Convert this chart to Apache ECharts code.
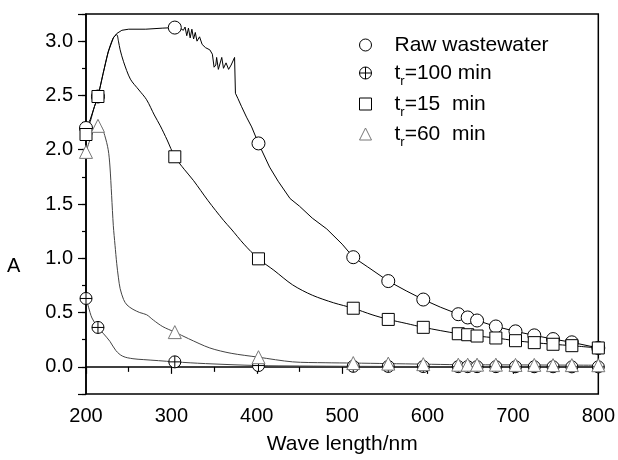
<!DOCTYPE html>
<html><head><meta charset="utf-8">
<script src="https://cdn.jsdelivr.net/npm/echarts@6/dist/echarts.min.js"></script>
<style>html,body{margin:0;padding:0;background:#fff}#c{width:618px;height:460px}</style>
</head><body><div id="c"></div>
<script>
// ---- data ----
const seriesNames = ['Raw wastewater', 't_r=100 min', 't_r=15  min', 't_r=60  min'];
const xTicks = [200, 300, 400, 500, 600, 700, 800];
const yTicks = [0.0, 0.5, 1.0, 1.5, 2.0, 2.5, 3.0];
const yTitle = 'A';
const xTitle = 'Wave length/nm';

// marker positions (nm)
const markerX = [200, 214, 304, 402, 513, 554, 595, 636, 647, 658, 680, 703, 725, 747, 769, 800];
const rawMarkY  = [2.20, 2.49, 3.125, 2.058, 1.01, 0.79, 0.62, 0.485, 0.455, 0.427, 0.372, 0.327, 0.29, 0.256, 0.226, 0.174];
const t100MarkY = [0.63, 0.363, 0.046, 0.012, 0.005, 0.004, 0.003, 0.002, 0.002, 0.002, 0.002, 0.001, 0.001, 0.001, 0.0, 0.0];
const t15MarkY  = [2.14, 2.49, 1.935, 0.995, 0.54, 0.437, 0.364, 0.305, 0.296, 0.284, 0.266, 0.241, 0.223, 0.208, 0.195, 0.174];
const t60MarkY  = [1.98, 2.22, 0.32, 0.089, 0.035, 0.03, 0.025, 0.02, 0.02, 0.02, 0.02, 0.018, 0.018, 0.016, 0.016, 0.015];

// spectra curves
const rawCurveX = [200, 205, 210, 214, 220, 226, 232, 236, 242, 250, 270, 290, 304, 310, 314, 316, 318, 320, 322, 324, 326, 328, 330, 333, 336, 340, 345, 348, 350, 352, 353, 355, 357, 359, 361, 364, 367, 370, 374, 375, 378, 382, 388, 394, 402, 415, 425, 439, 450, 465, 482, 500, 513, 530, 554, 575, 595, 615, 636, 647, 658, 680, 703, 725, 747, 769, 800];
const rawCurveY = [2.20, 2.28, 2.40, 2.49, 2.70, 2.90, 3.03, 3.07, 3.10, 3.11, 3.11, 3.12, 3.125, 3.12, 3.10, 3.13, 3.05, 3.12, 3.03, 3.11, 3.02, 3.08, 3.00, 3.04, 2.97, 2.94, 2.92, 2.88, 2.76, 2.78, 2.85, 2.74, 2.73, 2.85, 2.75, 2.80, 2.74, 2.78, 2.85, 2.52, 2.47, 2.40, 2.30, 2.21, 2.058, 1.84, 1.71, 1.55, 1.48, 1.37, 1.27, 1.13, 1.01, 0.92, 0.79, 0.70, 0.62, 0.55, 0.485, 0.455, 0.427, 0.372, 0.327, 0.29, 0.256, 0.226, 0.174];

const t100CurveX = [200, 203, 207, 214, 220, 228, 235, 243, 255, 267, 285, 304, 340, 402, 450, 513, 600, 700, 800];
const t100CurveY = [0.63, 0.55, 0.45, 0.363, 0.31, 0.235, 0.15, 0.098, 0.075, 0.067, 0.057, 0.046, 0.03, 0.012, 0.008, 0.005, 0.003, 0.001, 0.0];

const t15CurveX = [200, 205, 210, 214, 220, 226, 232, 236, 238, 240, 244, 252, 262, 271, 280, 287, 295, 304, 315, 326, 343, 361, 370, 385, 402, 420, 442, 465, 490, 513, 535, 554, 575, 595, 636, 647, 658, 680, 703, 725, 747, 769, 800];
const t15CurveY = [2.14, 2.26, 2.40, 2.49, 2.70, 2.90, 3.03, 3.06, 3.00, 2.92, 2.81, 2.65, 2.55, 2.46, 2.32, 2.22, 2.09, 1.935, 1.82, 1.715, 1.53, 1.35, 1.27, 1.13, 0.995, 0.89, 0.755, 0.66, 0.59, 0.54, 0.48, 0.437, 0.40, 0.364, 0.305, 0.296, 0.284, 0.266, 0.241, 0.223, 0.208, 0.195, 0.174];

const t60CurveX = [200, 205, 210, 214, 218, 222, 226, 228, 230, 232, 234, 236, 238, 240, 244, 248, 255, 263, 271, 279, 290, 304, 320, 345, 370, 402, 442, 480, 513, 554, 595, 636, 700, 800];
const t60CurveY = [1.98, 2.10, 2.20, 2.22, 2.21, 2.13, 2.00, 1.85, 1.58, 1.30, 1.12, 0.95, 0.82, 0.72, 0.62, 0.57, 0.53, 0.50, 0.48, 0.43, 0.37, 0.32, 0.26, 0.174, 0.125, 0.089, 0.046, 0.038, 0.035, 0.03, 0.025, 0.02, 0.018, 0.015];

// ---- build ----
const zip = (xs, ys) => xs.map((x, i) => [x, ys[i]]);
const FONT = '"Liberation Sans", Arial, sans-serif';
const plusPath = 'path://M10,0A10,10,0,1,1,-10,0A10,10,0,1,1,10,0ZM-10,0L10,0M0,-10L0,10';
const strokes = ['#000', '#000', '#000', '#777'];

function lineSeries(id, xs, ys, color, smooth) {
  return {
    type: 'line', id: id, name: id, data: zip(xs, ys), showSymbol: false, symbol: 'none',
    smooth: smooth, silent: true, z: 2,
    lineStyle: { color: color, width: 1 }
  };
}
function markSeries(name, ys, symbol, size, stroke, z) {
  return {
    type: 'scatter', name: name, data: zip(markerX, ys), symbol: symbol, symbolSize: size,
    z: z, itemStyle: { color: '#fff', borderColor: stroke, borderWidth: 1, opacity: 1 }
  };
}

const legendLabels = {
  'Raw wastewater': '{g|}Raw wastewater',
  't_r=100 min': '{g|}t{s|r}=100 min',
  't_r=15  min': '{g|}t{s|r}=15  min',
  't_r=60  min': '{g|}t{s|r}=60  min'
};
const legendTops = [30, 58, 89, 119];
const legends = seriesNames.map((n, i) => ({
  data: [n], orient: 'vertical', left: 359, top: legendTops[i], padding: 0,
  itemWidth: 12, itemHeight: 12, selectedMode: false,
  itemStyle: { color: '#fff', borderColor: strokes[i], borderWidth: 1 },
  formatter: (name) => legendLabels[name],
  textStyle: {
    fontFamily: FONT, fontSize: 21, color: '#000', lineHeight: 30,
    rich: {
      g: { width: 18 },
      s: { fontSize: 13, lineHeight: 13, verticalAlign: 'bottom', fontFamily: FONT, color: '#000' }
    }
  }
}));

const chart = echarts.init(document.getElementById('c'), null, { renderer: 'canvas' });
chart.setOption({
  animation: false,
  backgroundColor: '#fff',
  grid: { left: 86, right: 19, top: 14, bottom: 64, show: true, borderColor: '#000', borderWidth: 1.5, backgroundColor: 'transparent' },
  legend: legends,
  graphic: [{
    type: 'text', left: 7, top: 256, silent: true,
    style: { text: yTitle, fontFamily: FONT, fontSize: 20, fill: '#000' }
  }],
  xAxis: {
    type: 'value', min: 200, max: 800, interval: 100,
    name: xTitle, nameLocation: 'middle', nameGap: 40,
    nameTextStyle: { fontFamily: FONT, fontSize: 21, color: '#000' },
    axisLine: { lineStyle: { color: '#000', width: 1.5 } },
    axisTick: { length: 7, lineStyle: { color: '#000', width: 1.2 } },
    minorTick: { show: true, splitNumber: 2, length: 5, lineStyle: { color: '#000', width: 1.2 } },
    splitLine: { show: false }, minorSplitLine: { show: false },
    axisLabel: { fontFamily: FONT, fontSize: 20, color: '#000', margin: 12,
      formatter: v => xTicks.includes(Math.round(v)) ? String(Math.round(v)) : '' }
  },
  yAxis: [{
    type: 'value', min: -0.25, max: 3.25, interval: 0.25,
    axisLine: { show: true, lineStyle: { color: '#000', width: 1.5 } },
    axisTick: { length: 4, lineStyle: { color: '#000', width: 1.2 } },
    splitLine: { show: false },
    axisLabel: { fontFamily: FONT, fontSize: 20, color: '#000', margin: 13,
      formatter: v => {
        const hit = yTicks.find(t => Math.abs(t - v) < 1e-6);
        return hit === undefined ? '' : hit.toFixed(1);
      } }
  }, {
    type: 'value', min: -0.25, max: 3.25, splitNumber: 7, position: 'left', offset: 0,
    axisLine: { show: false }, axisLabel: { show: false }, splitLine: { show: false },
    axisTick: { show: true, length: 8, lineStyle: { color: '#000', width: 1.2 } }
  }],
  series: [
    lineSeries('raw-line', rawCurveX, rawCurveY, '#000', false),
    lineSeries('t100-line', t100CurveX, t100CurveY, '#444', 0.35),
    lineSeries('t15-line', t15CurveX, t15CurveY, '#000', 0.3),
    lineSeries('t60-line', t60CurveX, t60CurveY, '#444', 0.3),
    markSeries(seriesNames[1], t100MarkY, plusPath, 12, strokes[1], 4),
    markSeries(seriesNames[0], rawMarkY, 'circle', 13, strokes[0], 5),
    markSeries(seriesNames[2], t15MarkY, 'rect', 12, strokes[2], 6),
    markSeries(seriesNames[3], t60MarkY, 'triangle', 13, strokes[3], 7)
  ]
});
</script>
</body></html>
